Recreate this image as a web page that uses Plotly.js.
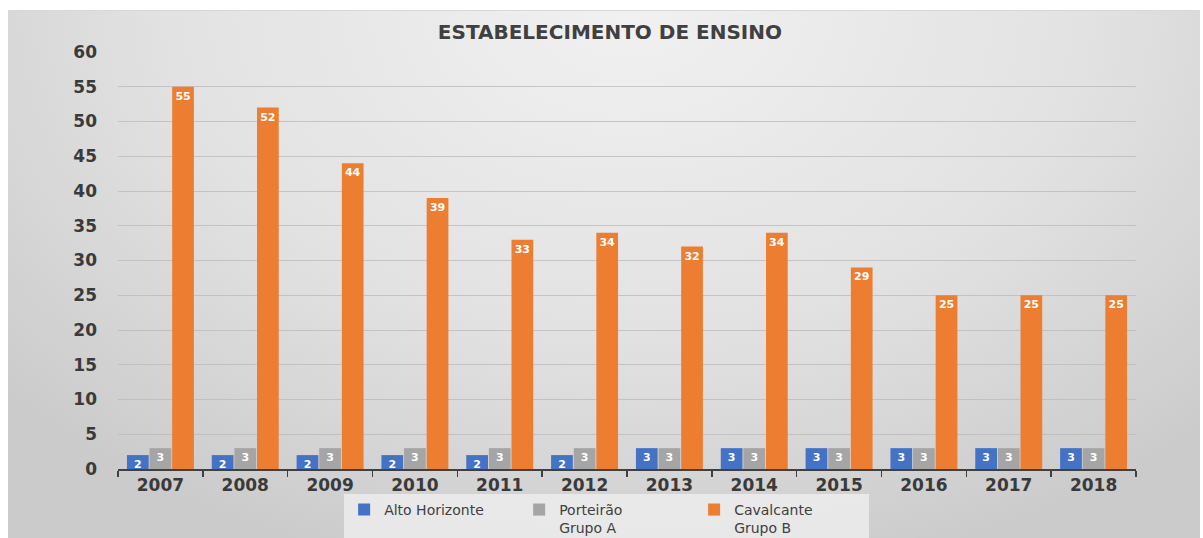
<!DOCTYPE html>
<html>
<head>
<meta charset="utf-8">
<script src="https://cdn.plot.ly/plotly-3.0.1.min.js"></script>
<style>
html,body{margin:0;padding:0;background:#fff;}
#wrap{position:relative;width:1203px;height:538px;overflow:hidden;}
#bg{position:absolute;left:8px;top:10px;width:1192px;height:528px;
 background:radial-gradient(ellipse 70% 110% at 52% 0%, #f1f1f1 0%, #e2e2e2 55%, #cbcbcb 100%);
 border-top:1px solid #d8d8d8;}
#chart{position:absolute;left:0;top:0;width:1203px;height:538px;}
</style>
</head>
<body>
<div id="wrap"><div id="bg"></div><div id="chart"></div></div>
<script>
const years = ['2007','2008','2009','2010','2011','2012','2013','2014','2015','2016','2017','2018'];
const altoHorizonte = [2,2,2,2,2,2,3,3,3,3,3,3];
const porteirao = [3,3,3,3,3,3,3,3,3,3,3,3];
const cavalcante = [55,52,44,39,33,34,32,34,29,25,25,25];
const seriesNames = ['Alto Horizonte', 'Porteirão<br>Grupo A', 'Cavalcante<br>Grupo B'];
const colors = ['#4472C4', '#A5A5A5', '#ED7D31'];

const FONT = 'DejaVu Sans, Verdana, sans-serif';
const allSeries = [altoHorizonte, porteirao, cavalcante];
const traces = allSeries.map((vals, i) => ({
  type: 'bar',
  x: years,
  y: vals,
  name: seriesNames[i],
  marker: {color: colors[i]},
  text: vals.map(String),
  textposition: 'inside',
  insidetextanchor: 'end',
  textangle: 0,
  constraintext: 'none',
  textfont: {family: FONT, size: 11, color: '#ffffff', weight: 'bold'},
  hoverinfo: 'x+y+name'
}));

const layout = {
  width: 1203, height: 538,
  paper_bgcolor: 'rgba(0,0,0,0)',
  plot_bgcolor: 'rgba(0,0,0,0)',
  margin: {l: 118, r: 67, t: 52, b: 69, autoexpand: false},
  barmode: 'group',
  bargap: 0.2,
  bargroupgap: 0.04,
  showlegend: true,
  title: {
    text: '<b>ESTABELECIMENTO DE ENSINO</b>',
    font: {family: FONT, size: 20, color: '#404040'},
    x: 0.507, xanchor: 'center', y: 0.94, yanchor: 'middle'
  },
  xaxis: {
    type: 'category',
    tickson: 'boundaries',
    ticks: 'outside', ticklen: 6, tickcolor: '#404040', tickwidth: 1.5,
    showline: true, linecolor: '#404040', linewidth: 2,
    showgrid: false,
    tickfont: {family: FONT, size: 17, color: '#3a3a3a', weight: 'bold'},
    fixedrange: true
  },
  yaxis: {
    range: [0, 60],
    dtick: 5,
    showline: false,
    zeroline: false,
    gridcolor: 'rgba(185,185,185,0.75)', gridwidth: 1,
    ticks: '',
    ticklabelstandoff: 20,
    tickfont: {family: FONT, size: 17, color: '#3a3a3a', weight: 'bold'},
    fixedrange: true
  },
  legend: {
    orientation: 'h',
    x: 0.48, xanchor: 'center',
    y: -0.06, yanchor: 'top',
    bgcolor: 'rgba(240,240,240,0.75)',
    font: {family: FONT, size: 14, color: '#404040'},
    itemwidth: 30,
    entrywidth: 130,
    entrywidthmode: 'pixels',
    tracegroupgap: 0,
    valign: 'top'
  }
};

Plotly.newPlot('chart', traces, layout, {displayModeBar: false, staticPlot: true});
</script>
</body>
</html>
